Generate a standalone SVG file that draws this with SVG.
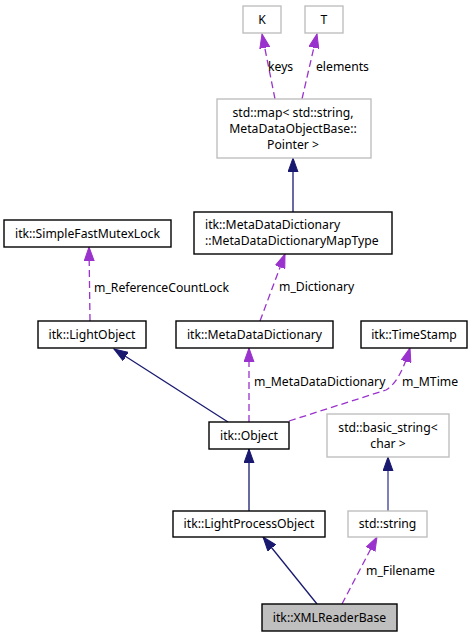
<svg xmlns="http://www.w3.org/2000/svg" width="473" height="637" viewBox="0 0 473 637">
<style>
text{font-family:"Noto Sans","DejaVu Sans",sans-serif;font-size:12.2px;fill:#000}
.c{text-anchor:middle}
.b{fill:#fff;stroke:#000;stroke-width:1.4}
.g{fill:#fff;stroke:#bfbfbf;stroke-width:1.4}
.s{fill:#bfbfbf;stroke:#000;stroke-width:1.4}
.inh{fill:none;stroke:#191970;stroke-width:1.3;marker-end:url(#an)}
.inl{fill:none;stroke:#5f5fa8;stroke-width:1.6;marker-end:url(#an)}
.use{fill:none;stroke:#9a32cd;stroke-width:1.3;stroke-dasharray:7,4;marker-end:url(#ap)}
</style>
<defs>
<marker id="an" markerUnits="userSpaceOnUse" markerWidth="15" markerHeight="11" refX="14" refY="5.5" orient="auto" viewBox="0 0 15 11">
<path d="M0,0.5 L14,5.5 L0,10.5 z" fill="#191970" stroke="#191970" stroke-width="1"/>
</marker>
<marker id="ap" markerUnits="userSpaceOnUse" markerWidth="15" markerHeight="11" refX="14" refY="5.5" orient="auto" viewBox="0 0 15 11">
<path d="M0,0.5 L14,5.5 L0,10.5 z" fill="#9a32cd" stroke="#9a32cd" stroke-width="1"/>
</marker>
</defs>
<g id="connectors">
<path class="use" d="M275,99 L262,34"/>
<path class="use" d="M302,99 L317,34"/>
<path class="inh" d="M293,212 L293,158"/>
<path class="use" d="M260,321 L285,254"/>
<path class="use" d="M90,321 L89,247"/>
<path class="inh" d="M228,422 L114,349"/>
<path class="use" d="M249,422 L249,348"/>
<path class="use" d="M289,421 L386,390 Q400,382 410,348"/>
<path class="inh" d="M249,511 L249,449"/>
<path class="inl" d="M388,511 L388,457"/>
<path class="inh" d="M317,604 L263,537"/>
<path class="use" d="M342,604 L377,537"/>
<text x="268" y="71">keys</text>
<text x="316" y="71">elements</text>
<text x="279" y="291">m_Dictionary</text>
<text x="94" y="292">m_ReferenceCountLock</text>
<text x="254" y="386">m_MetaDataDictionary</text>
<text x="402" y="386">m_MTime</text>
<text x="366" y="575">m_Filename</text>
</g>
<g id="K"><rect class="g" x="243" y="6" width="38" height="27"/><text class="c" x="262" y="24">K</text></g>
<g id="T"><rect class="g" x="305" y="6" width="38" height="27"/><text class="c" x="324" y="24">T</text></g>
<g id="map"><rect class="g" x="217" y="99" width="154" height="59"/>
<text class="c" x="293" y="117">std::map&lt; std::string,</text>
<text class="c" x="293" y="133">MetaDataObjectBase::</text>
<text class="c" x="293" y="149">Pointer &gt;</text></g>
<g id="MapType"><rect class="b" x="194" y="212" width="198" height="42"/>
<text x="205" y="229">itk::MetaDataDictionary</text>
<text x="205" y="245">::MetaDataDictionaryMapType</text></g>
<g id="SimpleFastMutexLock"><rect class="b" x="4" y="220" width="167" height="27"/><text class="c" x="87.5" y="238">itk::SimpleFastMutexLock</text></g>
<g id="LightObject"><rect class="b" x="38" y="321" width="108" height="27"/><text class="c" x="92" y="339">itk::LightObject</text></g>
<g id="MetaDataDictionary"><rect class="b" x="176" y="321" width="157" height="27"/><text class="c" x="254.5" y="339">itk::MetaDataDictionary</text></g>
<g id="TimeStamp"><rect class="b" x="361" y="321" width="106" height="27"/><text class="c" x="414" y="339">itk::TimeStamp</text></g>
<g id="Object"><rect class="b" x="209" y="422" width="80" height="27"/><text class="c" x="249" y="440">itk::Object</text></g>
<g id="basic_string"><rect class="g" x="327" y="414" width="122" height="43"/>
<text class="c" x="388" y="432">std::basic_string&lt;</text>
<text class="c" x="388" y="448">char &gt;</text></g>
<g id="LightProcessObject"><rect class="b" x="173" y="511" width="152" height="26"/><text class="c" x="249" y="528">itk::LightProcessObject</text></g>
<g id="string"><rect class="g" x="348" y="511" width="79" height="26"/><text class="c" x="387.5" y="528">std::string</text></g>
<g id="XMLReaderBase"><rect class="s" x="262" y="604" width="135" height="27"/><text class="c" x="329.5" y="622">itk::XMLReaderBase</text></g>
</svg>
